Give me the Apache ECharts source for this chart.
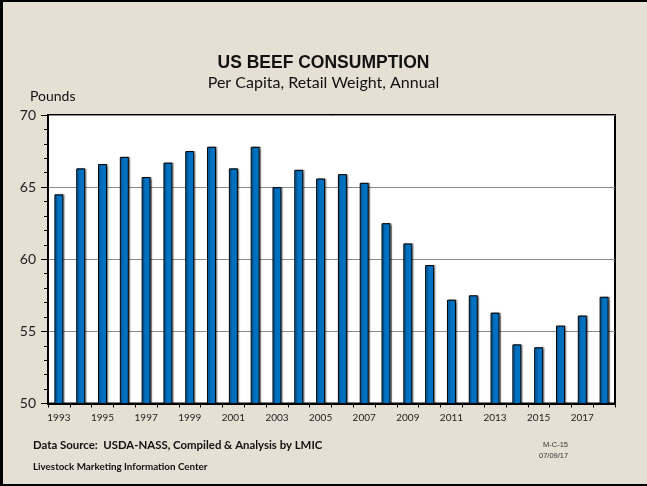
<!DOCTYPE html>
<html>
<head>
<meta charset="utf-8">
<script src="https://cdn.jsdelivr.net/npm/echarts@6/dist/echarts.min.js"></script>
<style>
  html, body { margin: 0; padding: 0; background: #e6dfd3; }
  #chart { width: 647px; height: 486px; }
</style>
</head>
<body>
<div id="chart"></div>
<script>
// Annual US per-capita beef consumption, retail weight (pounds)
const years = ['1993','1994','1995','1996','1997','1998','1999','2000','2001','2002','2003','2004','2005',
               '2006','2007','2008','2009','2010','2011','2012','2013','2014','2015','2016','2017','2018'];
const pounds = [64.5, 66.3, 66.6, 67.1, 65.7, 66.7, 67.5, 67.8, 66.3, 67.8, 65.0, 66.2, 65.6,
                65.9, 65.3, 62.5, 61.1, 59.6, 57.2, 57.5, 56.3, 54.1, 53.9, 55.4, 56.1, 57.4];
const yTicks = { min: 50, max: 70, step: 5 };

const bodyFont = 'Lato, "Open Sans", sans-serif';
const arialFont = '"Liberation Sans", Arial, sans-serif';
const chart = echarts.init(document.getElementById('chart'), null, { renderer: 'canvas' });

chart.setOption({
  backgroundColor: '#e6dfd3',
  animation: false,
  title: [
    { text: 'US BEEF CONSUMPTION', left: 'center', top: 54, padding: 0,
      textStyle: { fontFamily: arialFont, fontWeight: 'bold', fontSize: 17.5, color: '#111' } },
    { text: 'Per Capita, Retail Weight, Annual', left: 'center', top: 75, padding: 0,
      textStyle: { fontFamily: bodyFont, fontWeight: 'normal', fontSize: 16, color: '#111' } },
    { text: 'Pounds', left: 30, top: 89, padding: 0,
      textStyle: { fontFamily: bodyFont, fontWeight: 'normal', fontSize: 14, color: '#111' } },
    { text: 'Data Source:  USDA-NASS, Compiled & Analysis by LMIC', left: 33, top: 440, padding: 0,
      textStyle: { fontFamily: bodyFont, fontWeight: 'bold', fontSize: 11.4, color: '#111' } },
    { text: 'Livestock Marketing Information Center', left: 33, top: 462, padding: 0,
      textStyle: { fontFamily: bodyFont, fontWeight: 'bold', fontSize: 9.8, color: '#111' } },
    { text: 'M-C-15', left: 543, top: 441, padding: 0,
      textStyle: { fontFamily: arialFont, fontWeight: 'normal', fontSize: 7.5, color: '#333' } },
    { text: '07/09/17', left: 539, top: 452, padding: 0,
      textStyle: { fontFamily: arialFont, fontWeight: 'normal', fontSize: 7.5, color: '#333' } }
  ],
  graphic: [
    { type: 'rect', left: 0, top: 0, shape: { width: 647, height: 2 }, style: { fill: '#000' }, silent: true },
    { type: 'rect', left: 0, top: 0, shape: { width: 3, height: 486 }, style: { fill: '#000' }, silent: true },
    { type: 'rect', left: 0, top: 484, shape: { width: 647, height: 2 }, style: { fill: '#000' }, silent: true }
  ],
  grid: {
    left: 48, right: 32, top: 115, bottom: 82.5,
    show: true, backgroundColor: '#ffffff', borderColor: '#000', borderWidth: 2
  },
  xAxis: {
    type: 'category',
    data: years,
    boundaryGap: true,
    axisLine: { lineStyle: { color: '#000', width: 2 } },
    axisTick: { show: true, inside: false, length: 4, alignWithLabel: false, interval: 0,
                lineStyle: { color: '#000', width: 1 } },
    axisLabel: { interval: 1, margin: 9, fontFamily: bodyFont, fontSize: 10, color: '#222' }
  },
  yAxis: {
    type: 'value',
    min: yTicks.min, max: yTicks.max, interval: yTicks.step,
    axisLine: { show: true, lineStyle: { color: '#000', width: 2 } },
    axisTick: { show: true, inside: false, length: 7, lineStyle: { color: '#000', width: 1 } },
    minorTick: { show: true, splitNumber: 5, length: 4, lineStyle: { color: '#000', width: 1 } },
    splitLine: { show: true, lineStyle: { color: '#8c8c8c', width: 1 } },
    axisLabel: { margin: 12, fontFamily: bodyFont, fontSize: 14, color: '#222' }
  },
  series: [{
    type: 'bar',
    data: pounds,
    barWidth: 9,
    itemStyle: {
      color: '#0070c0', borderColor: '#000', borderWidth: 1,
      shadowColor: 'rgba(0,0,0,0.35)', shadowOffsetX: 1.5, shadowOffsetY: 0, shadowBlur: 1
    }
  }]
});
</script>
</body>
</html>
